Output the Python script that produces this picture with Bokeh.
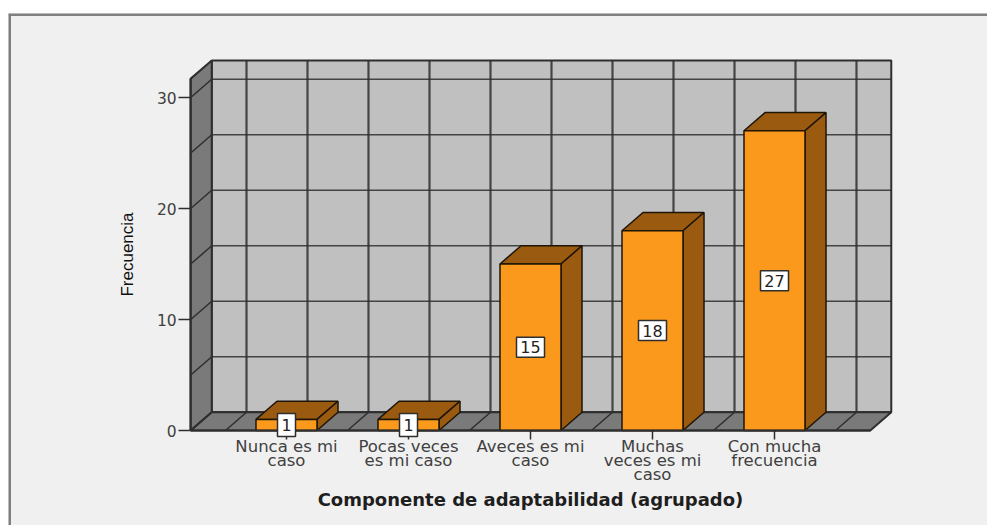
from bokeh.embed import file_html
from bokeh.models import ColumnDataSource, FixedTicker, Range1d, LinearAxis, Span
from bokeh.plotting import figure
from bokeh.resources import INLINE
from bokeh.core.properties import value

categories = ["Nunca es mi\ncaso", "Pocas veces\nes mi caso", "Aveces es mi\ncaso",
              "Muchas\nveces es mi\ncaso", "Con mucha\nfrecuencia"]
frequencies = [1, 1, 15, 18, 27]
value_ticks = [0, 10, 20, 30]
grid_values = [0, 5, 10, 15, 20, 25, 30]
x_title = "Componente de adaptabilidad (agrupado)"
y_title = "Frecuencia"

# page-pixel scale of the picture
PX_X, PX_Y = 122.0, 11.1
X0_PAGE, Y0_PAGE = 286.0, 430.0
W, H = 979, 512
LEFT, RIGHT = -0.785, 4.785        # floor front edges
TOP = 31.7                         # wall top
DX, DY = 21 / PX_X, 18.2 / PX_Y    # depth of the 3-D box
HALF = 0.25

WALL, SIDE, PANEL = "#c0c0c0", "#7a7a7a", "#f0f0f0"
ORANGE, BROWN = "#fb991d", "#9a5b10"
INK = "#2e2e2e"
TXT = "#404040"

p = figure(width=W, height=H, output_backend="svg", toolbar_location=None,
           x_axis_type=None, y_axis_type=None, min_border=0,
           margin=(13, 0, 0, 8),
           x_range=Range1d((8 - X0_PAGE) / PX_X, (8 + W - X0_PAGE) / PX_X),
           y_range=Range1d((Y0_PAGE - 13 - H) / PX_Y, (Y0_PAGE - 13) / PX_Y),
           background_fill_color=PANEL, border_fill_color=PANEL)
p.grid.visible = False
p.outline_line_color = None

# panel border (only left and top fall inside the picture)
p.add_layout(Span(location=p.x_range.start, dimension="height", line_color="#808080", line_width=5))
p.add_layout(Span(location=p.y_range.end, dimension="width", line_color="#808080", line_width=5))

# walls and floor
p.quad(left=[LEFT + DX], right=[RIGHT + DX], bottom=[DY], top=[TOP + DY],
       fill_color=WALL, line_color=INK, line_width=2)
p.patch([LEFT, LEFT + DX, LEFT + DX, LEFT], [0, DY, TOP + DY, TOP],
        fill_color=SIDE, line_color=INK, line_width=2)
p.patch([LEFT, RIGHT, RIGHT + DX, LEFT + DX], [0, 0, DY, DY],
        fill_color=SIDE, line_color=INK, line_width=2)

# horizontal gridlines: back wall + left wall
p.segment(x0=[LEFT + DX] * 7, x1=[RIGHT + DX] * 7,
          y0=[v + DY for v in grid_values], y1=[v + DY for v in grid_values],
          line_color=INK, line_alpha=0.85, line_width=1.5)
p.segment(x0=[LEFT] * 7, x1=[LEFT + DX] * 7,
          y0=grid_values, y1=[v + DY for v in grid_values],
          line_color=INK, line_width=1.5)

# vertical gridlines: back wall + floor
vgrid = [n / 2 - 0.5 for n in range(11)]
p.segment(x0=[v + DX for v in vgrid], x1=[v + DX for v in vgrid],
          y0=[DY] * 11, y1=[TOP + DY] * 11,
          line_color=INK, line_alpha=0.85, line_width=2.2)
p.segment(x0=vgrid, x1=[v + DX for v in vgrid], y0=[0] * 11, y1=[DY] * 11,
          line_color=INK, line_width=1.5)

# bars
for i, f in enumerate(frequencies):
    l, r = i - HALF, i + HALF
    p.patch([l, r, r + DX, l + DX], [f, f, f + DY, f + DY],
            fill_color=BROWN, line_color="#1e1407", line_width=1.5)
    p.patch([r, r + DX, r + DX, r], [0, DY, f + DY, f],
            fill_color=BROWN, line_color="#1e1407", line_width=1.5)
    p.quad(left=[l], right=[r], bottom=[0], top=[f],
           fill_color=ORANGE, line_color="#1e1407", line_width=1.5)

# axes
xaxis = LinearAxis(ticker=FixedTicker(ticks=list(range(len(categories)))),
                   major_label_overrides={i: c for i, c in enumerate(categories)},
                   fixed_location=0, bounds=(LEFT, RIGHT),
                   major_tick_in=0, major_tick_out=9, minor_tick_line_color=None,
                   axis_line_color=INK, axis_line_width=2, major_tick_line_color=INK,
                   major_tick_line_width=1.5,
                   major_label_text_font="DejaVu Sans", major_label_text_font_size="16.5px",
                   major_label_text_line_height=0.75,
                   major_label_text_color=TXT, major_label_standoff=-3,
                   axis_label=x_title, axis_label_text_font="DejaVu Sans",
                   axis_label_text_font_style="bold", axis_label_text_font_size="18px",
                   axis_label_text_color="#1e1e1e", axis_label_standoff=2)
p.add_layout(xaxis, "below")

yaxis = LinearAxis(ticker=FixedTicker(ticks=value_ticks),
                   fixed_location=LEFT, bounds=(0, TOP),
                   major_tick_in=0, major_tick_out=12, minor_tick_line_color=None,
                   axis_line_color=INK, axis_line_width=2, major_tick_line_color=INK,
                   major_tick_line_width=1.5,
                   major_label_text_font="DejaVu Sans", major_label_text_font_size="15.5px",
                   major_label_text_color=TXT, major_label_standoff=2,
                   axis_label=y_title, axis_label_text_font="Liberation Sans",
                   axis_label_text_font_style="normal", axis_label_text_font_size="17px",
                   axis_label_text_color="#111111", axis_label_standoff=17)
p.add_layout(yaxis, "left")

# value labels
src = ColumnDataSource(dict(
    x=list(range(len(frequencies))),
    y=[f / 2 for f in frequencies],
    t=[str(f) for f in frequencies],
    w=[18 if f < 10 else 28 for f in frequencies],
    h=[23 if f < 10 else 20 for f in frequencies],
))
p.rect("x", "y", width="w", height="h", width_units="screen", height_units="screen",
       source=src, fill_color="white", line_color=INK, line_width=1.5, level="overlay")
p.text("x", "y", text="t", source=src, text_align="center", text_baseline="middle",
       text_font=value("DejaVu Sans"), text_font_size="16px", text_color="#222222", level="overlay")

open("out.html", "w").write(file_html(p, INLINE))
